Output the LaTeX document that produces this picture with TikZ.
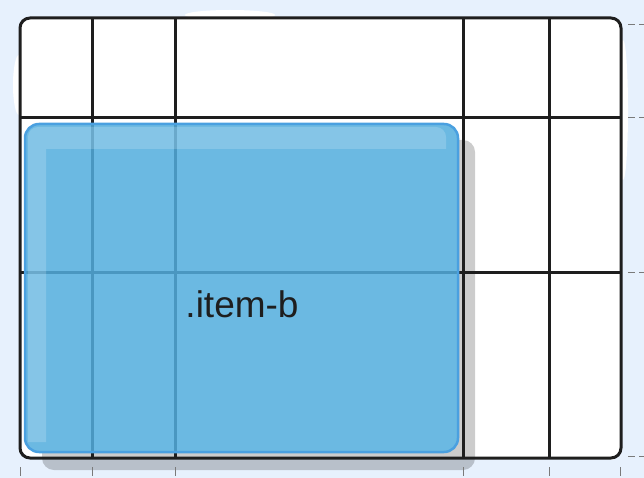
\documentclass[tikz,border=0pt]{standalone}
\usepackage{fontspec}
\setmainfont{Liberation Sans}
\definecolor{bgblue}{HTML}{E7F1FD}
\definecolor{ink}{HTML}{1E1E1E}
\definecolor{itemblue}{RGB}{82,173,221}
\definecolor{itemedge}{HTML}{4AA0E0}
\definecolor{tickgray}{HTML}{7A7A7A}
\begin{document}
\begin{tikzpicture}[x=1pt,y=-1pt,
    gridline/.style={draw=ink,line width=3pt},
    tickmark/.style={draw=tickgray,line width=1pt},
    itembox/.style={fill=itemblue,fill opacity=.85,draw=itemedge,line width=2.5pt,rounded corners=14pt},
  ]
  \useasboundingbox[fill=bgblue] (0,0) rectangle (644,478);
  % paper behind the grid
  \fill[white] (19,85) ellipse [x radius=6, y radius=30];
  \fill[white] (230,15) ellipse [x radius=45, y radius=5];
  \fill[white] (623,110) ellipse [x radius=5, y radius=70];
  \fill[white] (612,430) ellipse [x radius=10, y radius=30];
  \fill[white,rounded corners=10pt] (20,18) rectangle (621,458);
  % shadow of the item
  \fill[black,opacity=.2,rounded corners=12pt] (42,140) rectangle (475,470);
  \fill[white,rounded corners=14pt] (25,124) rectangle (458,452);
  % grid tracks
  \draw[gridline] (92,18) -- (92,458);
  \draw[gridline] (175,18) -- (175,458);
  \draw[gridline] (463,18) -- (463,458);
  \draw[gridline] (549,18) -- (549,458);
  \draw[gridline] (20,118) -- (621,118);
  \draw[gridline] (20,272) -- (621,272);
  \draw[gridline,rounded corners=10pt] (20,18) rectangle (621,458);
  % the item
  \path[itembox] (25,124) rectangle (458,452);
  \fill[white,opacity=.18,rounded corners=10pt] (28,442) -- (28,127) -- (446,127)
    [sharp corners] -- (446,149) -- (46,149) -- (46,442) -- cycle;
  \node[text=ink,font=\fontsize{37}{40}\selectfont] (itemb) at (242,304) {.item-b};
  % line numbers
  \foreach \x in {20,92,175,463,549,620}
    \draw[tickmark] (\x,467) -- (\x,476);
  \foreach \y in {25,118,272,456}
    \draw[tickmark,dash pattern=on 7pt off 4pt] (628,\y) -- (644,\y);
\end{tikzpicture}
\end{document}
